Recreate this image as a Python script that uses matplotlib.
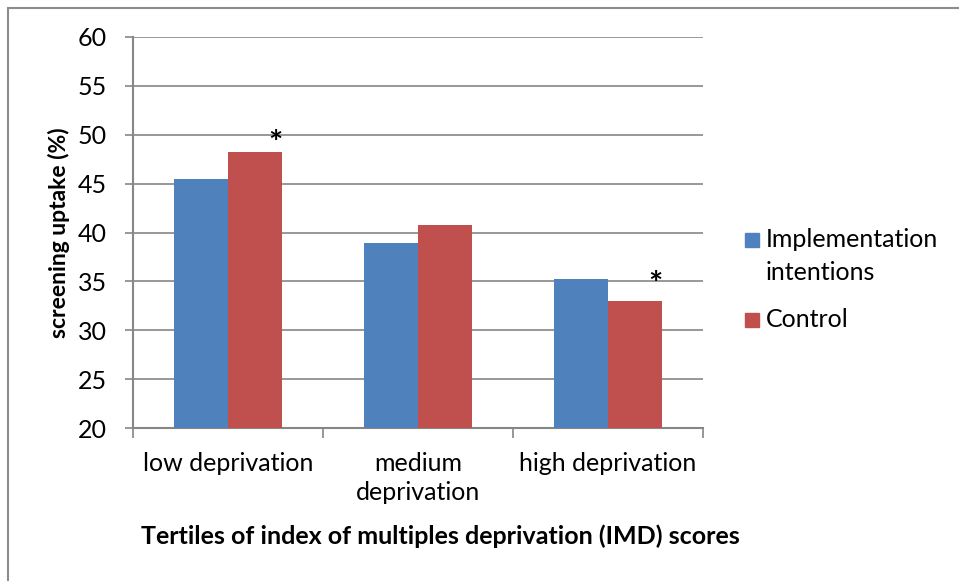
import matplotlib

matplotlib.use('Agg')
import matplotlib.pyplot as plt
from matplotlib.patches import Rectangle

plt.rcParams['font.family'] = ['Lato', 'DejaVu Sans']

categories = ["low deprivation", "medium\ndeprivation", "high deprivation"]
series_names = ["Implementation\nintentions", "Control"]
implementation = [45.5, 38.9, 35.2]
control = [48.2, 40.8, 33.0]
star_groups = [0, 2]
star_y = [49.0, 34.6]

blue = "#4F81BD"
red = "#C0504D"
grey = "#868686"

fig = plt.figure(figsize=(9.59, 5.81), dpi=100)
ax = fig.add_axes([133 / 959, 1 - 428 / 581, 570 / 959, 391 / 581])

# outer chart border (only left/top visible in the original)
fig.patches.append(Rectangle((8 / 959, -0.1), 1.2, 1 - 8 / 581 + 0.1,
                             transform=fig.transFigure, fill=False,
                             edgecolor="#8c8c8c", linewidth=1.5))

w = 1 / 3.5
x = range(len(categories))
ax.bar([i - w / 2 for i in x], implementation, width=w, color=blue, zorder=3)
ax.bar([i + w / 2 for i in x], control, width=w, color=red, zorder=3)

for g, y in zip(star_groups, star_y):
    ax.text(g + 0.25, y, "*", ha="center", va="center", fontsize=24,
            fontweight="bold", zorder=4)

ax.set_xlim(-0.5, 2.5)
ax.set_ylim(20, 60)
ax.set_yticks(range(20, 61, 5))
ax.yaxis.grid(True, color=grey, linewidth=1.2, zorder=0)
ax.set_axisbelow(True)

ax.set_xticks(list(x))
ax.set_xticklabels(categories, fontsize=18, linespacing=1.35)
ax.set_xticks([-0.5, 0.5, 1.5, 2.5], minor=True)
ax.tick_params(axis="x", which="major", length=0, pad=17)
ax.tick_params(axis="x", which="minor", length=7, width=1.2, color=grey)
ax.tick_params(axis="y", length=6, width=1.2, color=grey, labelsize=18, pad=13)

for s in ("top", "right"):
    ax.spines[s].set_visible(False)
for s in ("left", "bottom"):
    ax.spines[s].set_color(grey)
    ax.spines[s].set_linewidth(1.5)

ax.set_ylabel("screening uptake (%)", fontsize=16.5, fontweight="bold", labelpad=5)
fig.text(440 / 959, 1 - 536 / 581, "Tertiles of index of multiples deprivation (IMD) scores",
         ha="center", va="center", fontsize=18, fontweight="bold")

# legend, square aligned with the first line of each entry
leg_colors = [blue, red]
leg_y = [240, 320]
for name, c, yy in zip(series_names, leg_colors, leg_y):
    fig.patches.append(Rectangle((745 / 959, 1 - (yy + 7) / 581), 14 / 959, 14 / 581,
                                 transform=fig.transFigure, color=c))
    fig.text(766 / 959, 1 - (yy - 12) / 581, name, ha="left", va="top",
             fontsize=18, linespacing=1.5)

fig.savefig("out.png", dpi=100)
plt.close(fig)
